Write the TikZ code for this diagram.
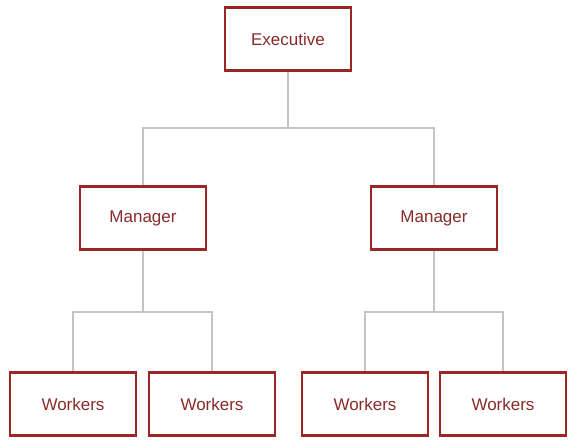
\documentclass[tikz,border=0pt]{standalone}
\usepackage{fontspec}
\setmainfont{Liberation Sans}
\usepackage{tikz}
\usetikzlibrary{positioning,calc}
\definecolor{boxred}{HTML}{9A2626}
\definecolor{textred}{HTML}{8A2B2B}
\definecolor{linegray}{HTML}{C4C4C4}

\begin{document}
\begin{tikzpicture}[x=1pt, y=1pt,
    every node/.style={font=\fontsize{17}{19}\selectfont},
    orgbox/.style={draw=boxred, line width=2.2pt, fill=white, text=textred,
        minimum width=126pt, minimum height=63pt, inner sep=0pt},
    link/.style={draw=linegray, line width=2pt}]
        \useasboundingbox (0,0) rectangle (577,442);
        % Junction points of the links
        \coordinate (jtop) at (288,314);
        \coordinate (jleft) at (143,130);
        \coordinate (jright) at (434,130);
        % Top level
        \node[orgbox] (exec) at (288,403) {Executive};
        % Middle level
        \node[orgbox] (mgrL) at (143,224) {Manager};
        \node[orgbox] (mgrR) at (434,224) {Manager};
        % Bottom level
        \node[orgbox] (wrkA) at (73,38) {Workers};
        \node[orgbox] (wrkB) at (212,38) {Workers};
        \node[orgbox] (wrkC) at (365,38) {Workers};
        \node[orgbox] (wrkD) at (503,38) {Workers};
        % Connectors
        \draw[link] (exec.south) -- (jtop);
        \draw[link] (jtop) -| (mgrL.north);
        \draw[link] (jtop) -| (mgrR.north);
        \draw[link] (mgrL.south) -- (jleft);
        \draw[link] (jleft) -| (wrkA.north);
        \draw[link] (jleft) -| (wrkB.north);
        \draw[link] (mgrR.south) -- (jright);
        \draw[link] (jright) -| (wrkC.north);
        \draw[link] (jright) -| (wrkD.north);
    \end{tikzpicture}
\end{document}
